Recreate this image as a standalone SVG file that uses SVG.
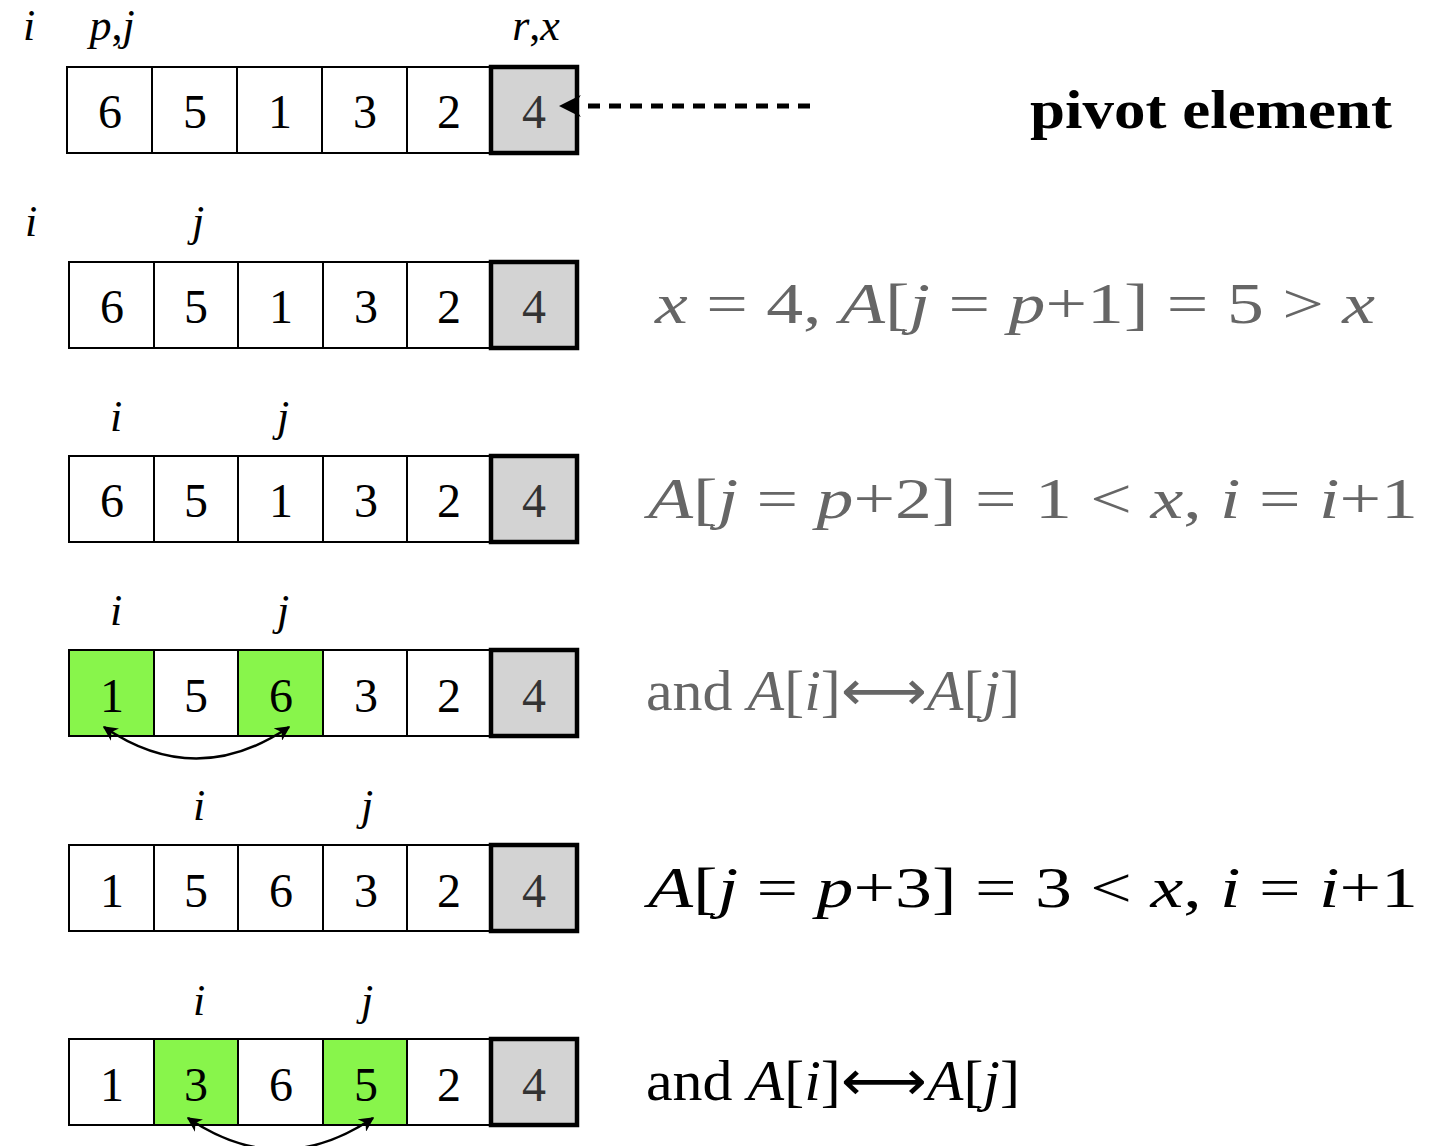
<svg xmlns="http://www.w3.org/2000/svg" width="1446" height="1146" viewBox="0 0 1446 1146">
<style>
.c{fill:#fff;stroke:#000;stroke-width:2}
.g{fill:#88f54b;stroke:#000;stroke-width:2}
.p{fill:#d3d3d3;stroke:#000;stroke-width:4.5}
.d{font-family:"Liberation Serif","Times New Roman",serif;font-size:48px;text-anchor:middle;fill:#000}
.dp{fill:#333}
.l{font-family:"Liberation Serif","Times New Roman",serif;font-size:44px;font-style:italic;fill:#000;text-anchor:middle}
.m{font-family:"Liberation Serif","Times New Roman",serif;font-size:56px;fill:#666}
.mb{fill:#000}
.i{font-style:italic}
.ar{font-family:"DejaVu Sans",sans-serif;font-style:normal}
</style>
<defs>
<marker id="ah" viewBox="0 0 10 10" refX="9" refY="5" markerWidth="22" markerHeight="22" orient="auto-start-reverse" markerUnits="userSpaceOnUse">
<path d="M0,0 L10,5 L0,10 L3,5 z" fill="#000"/>
</marker>
<marker id="ah2" viewBox="0 0 10 10" refX="9" refY="5" markerWidth="6" markerHeight="6" orient="auto-start-reverse" markerUnits="strokeWidth">
<path d="M0,0 L10,5 L0,10 L3,5 z" fill="#000"/>
</marker>
</defs>

<g id="row1">
<rect class="c" x="67" y="67" width="85" height="86"/>
<rect class="c" x="152" y="67" width="85" height="86"/>
<rect class="c" x="237" y="67" width="85" height="86"/>
<rect class="c" x="322" y="67" width="85" height="86"/>
<rect class="c" x="407" y="67" width="84" height="86"/>
<rect class="p" x="491" y="67" width="86" height="86"/>
<text class="d" x="110" y="128">6</text>
<text class="d" x="195" y="128">5</text>
<text class="d" x="280" y="128">1</text>
<text class="d" x="365" y="128">3</text>
<text class="d" x="449" y="128">2</text>
<text class="d dp" x="534" y="128">4</text>
<text class="l" x="29" y="40">i</text>
<text class="l" x="112" y="40">p<tspan font-style="normal">,</tspan>j</text>
<text class="l" x="536" y="40">r<tspan font-style="normal">,</tspan>x</text>
</g>

<g id="row2">
<rect class="c" x="69" y="262" width="85" height="86"/>
<rect class="c" x="154" y="262" width="84" height="86"/>
<rect class="c" x="238" y="262" width="85" height="86"/>
<rect class="c" x="323" y="262" width="84" height="86"/>
<rect class="c" x="407" y="262" width="84" height="86"/>
<rect class="p" x="491" y="262" width="86" height="86"/>
<text class="d" x="112" y="323">6</text>
<text class="d" x="196" y="323">5</text>
<text class="d" x="281" y="323">1</text>
<text class="d" x="366" y="323">3</text>
<text class="d" x="449" y="323">2</text>
<text class="d dp" x="534" y="323">4</text>
<text class="l" x="31" y="236">i</text>
<text class="l" x="198" y="236">j</text>
</g>

<g id="row3">
<rect class="c" x="69" y="456" width="85" height="86"/>
<rect class="c" x="154" y="456" width="84" height="86"/>
<rect class="c" x="238" y="456" width="85" height="86"/>
<rect class="c" x="323" y="456" width="84" height="86"/>
<rect class="c" x="407" y="456" width="84" height="86"/>
<rect class="p" x="491" y="456" width="86" height="86"/>
<text class="d" x="112" y="517">6</text>
<text class="d" x="196" y="517">5</text>
<text class="d" x="281" y="517">1</text>
<text class="d" x="366" y="517">3</text>
<text class="d" x="449" y="517">2</text>
<text class="d dp" x="534" y="517">4</text>
<text class="l" x="116" y="431">i</text>
<text class="l" x="283" y="431">j</text>
</g>

<g id="row4">
<rect class="g" x="69" y="650" width="85" height="86"/>
<rect class="c" x="154" y="650" width="84" height="86"/>
<rect class="g" x="238" y="650" width="85" height="86"/>
<rect class="c" x="323" y="650" width="84" height="86"/>
<rect class="c" x="407" y="650" width="84" height="86"/>
<rect class="p" x="491" y="650" width="86" height="86"/>
<text class="d" x="112" y="712">1</text>
<text class="d" x="196" y="712">5</text>
<text class="d" x="281" y="712">6</text>
<text class="d" x="366" y="712">3</text>
<text class="d" x="449" y="712">2</text>
<text class="d dp" x="534" y="712">4</text>
<text class="l" x="116" y="625">i</text>
<text class="l" x="283" y="625">j</text>
</g>

<g id="row5">
<rect class="c" x="69" y="845" width="85" height="86"/>
<rect class="c" x="154" y="845" width="84" height="86"/>
<rect class="c" x="238" y="845" width="85" height="86"/>
<rect class="c" x="323" y="845" width="84" height="86"/>
<rect class="c" x="407" y="845" width="84" height="86"/>
<rect class="p" x="491" y="845" width="86" height="86"/>
<text class="d" x="112" y="907">1</text>
<text class="d" x="196" y="907">5</text>
<text class="d" x="281" y="907">6</text>
<text class="d" x="366" y="907">3</text>
<text class="d" x="449" y="907">2</text>
<text class="d dp" x="534" y="907">4</text>
<text class="l" x="199" y="820">i</text>
<text class="l" x="367" y="820">j</text>
</g>

<g id="row6">
<rect class="c" x="69" y="1039" width="85" height="86"/>
<rect class="g" x="154" y="1039" width="84" height="86"/>
<rect class="c" x="238" y="1039" width="85" height="86"/>
<rect class="g" x="323" y="1039" width="84" height="86"/>
<rect class="c" x="407" y="1039" width="84" height="86"/>
<rect class="p" x="491" y="1039" width="86" height="86"/>
<text class="d" x="112" y="1101">1</text>
<text class="d" x="196" y="1101">3</text>
<text class="d" x="281" y="1101">6</text>
<text class="d" x="366" y="1101">5</text>
<text class="d" x="449" y="1101">2</text>
<text class="d dp" x="534" y="1101">4</text>
<text class="l" x="199" y="1015">i</text>
<text class="l" x="367" y="1015">j</text>
</g>

<g id="labels">
<text x="1030" y="128" font-family="Liberation Serif, Times New Roman, serif" font-size="54" font-weight="bold" textLength="362" lengthAdjust="spacingAndGlyphs">pivot element</text>
<text class="m" x="655" y="323" textLength="720" lengthAdjust="spacingAndGlyphs"><tspan class="i">x</tspan> = 4, <tspan class="i">A</tspan>[<tspan class="i">j</tspan> = <tspan class="i">p</tspan>+1] = 5 &gt; <tspan class="i">x</tspan></text>
<text class="m" x="648" y="518" textLength="770" lengthAdjust="spacingAndGlyphs"><tspan class="i">A</tspan>[<tspan class="i">j</tspan> = <tspan class="i">p</tspan>+2] = 1 &lt; <tspan class="i">x</tspan>, <tspan class="i">i</tspan> = <tspan class="i">i</tspan>+1</text>
<text class="m" x="646" y="710" textLength="374" lengthAdjust="spacingAndGlyphs">and <tspan class="i">A</tspan>[<tspan class="i">i</tspan>]<tspan class="ar">⟷</tspan><tspan class="i">A</tspan>[<tspan class="i">j</tspan>]</text>
<text class="m mb" x="648" y="907" textLength="770" lengthAdjust="spacingAndGlyphs"><tspan class="i">A</tspan>[<tspan class="i">j</tspan> = <tspan class="i">p</tspan>+3] = 3 &lt; <tspan class="i">x</tspan>, <tspan class="i">i</tspan> = <tspan class="i">i</tspan>+1</text>
<text class="m mb" x="646" y="1100" textLength="374" lengthAdjust="spacingAndGlyphs">and <tspan class="i">A</tspan>[<tspan class="i">i</tspan>]<tspan class="ar">⟷</tspan><tspan class="i">A</tspan>[<tspan class="i">j</tspan>]</text>
</g>

<g id="connectors" fill="none" stroke="#000">
<line x1="810" y1="106" x2="561" y2="106" stroke-width="5" stroke-dasharray="12,9" marker-end="url(#ah)"/>
<path d="M104,727 Q196,790 289,727" stroke-width="2.5" marker-start="url(#ah2)" marker-end="url(#ah2)"/>
<path d="M188,1118 Q280,1181 373,1118" stroke-width="2.5" marker-start="url(#ah2)" marker-end="url(#ah2)"/>
</g>
</svg>
